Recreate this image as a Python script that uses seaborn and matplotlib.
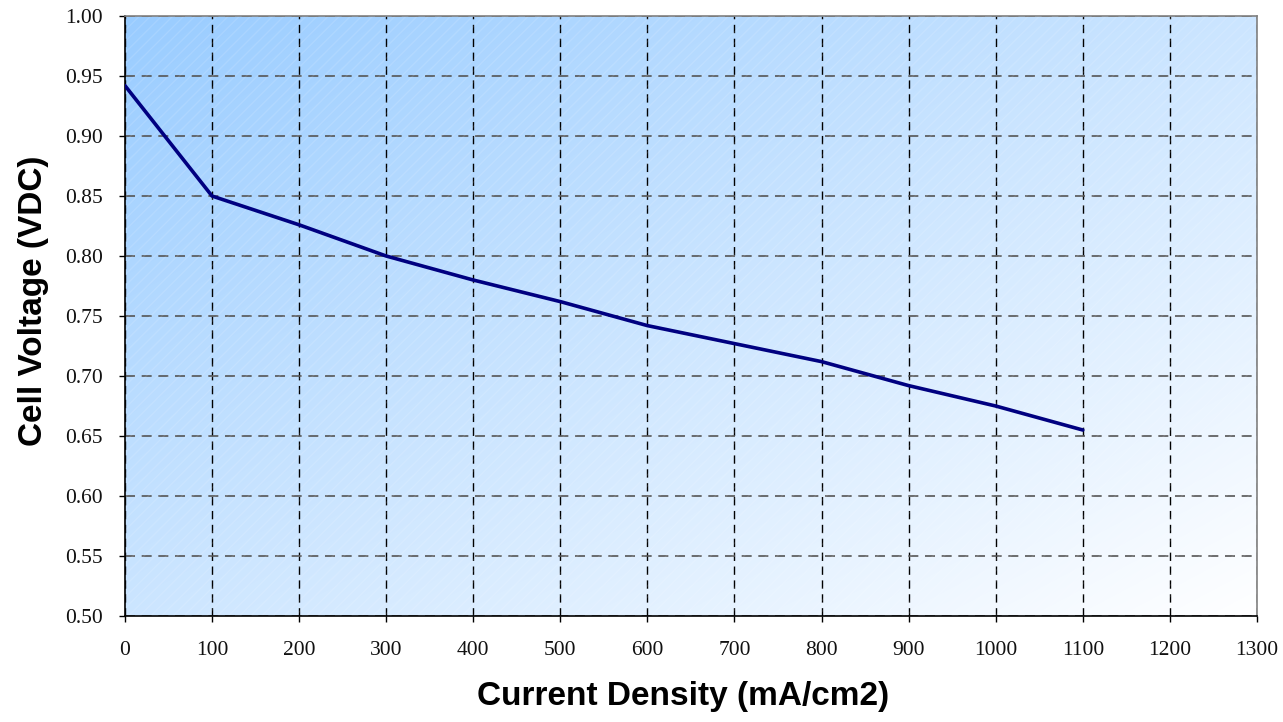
import numpy as np
import pandas as pd
import matplotlib
matplotlib.use("Agg")
import matplotlib.pyplot as plt
from matplotlib.patches import Rectangle
import seaborn as sns

# values
current_density = [0, 100, 200, 300, 400, 500, 600, 700, 800, 900, 1000, 1100]
cell_voltage = [0.942, 0.850, 0.826, 0.800, 0.780, 0.762, 0.742, 0.727,
                0.712, 0.692, 0.675, 0.655]
x_ticks = list(range(0, 1301, 100))
y_ticks = [0.50, 0.55, 0.60, 0.65, 0.70, 0.75, 0.80, 0.85, 0.90, 0.95, 1.00]

df = pd.DataFrame({"Current Density": current_density,
                   "Cell Voltage": cell_voltage})

sns.set_style("white")
plt.rcParams["text.color"] = "black"

fig = plt.figure(figsize=(12.83, 7.22), dpi=100)
ax = fig.add_axes([0.0974, 0.1468, 0.8823, 0.831])

# diagonal blue-to-white gradient for the plot area
n = 300
u, v = np.meshgrid(np.linspace(0, 1, n), np.linspace(1, 0, n))
t = (u + (1 - v)) / 2.0
top_left = np.array([153, 204, 255]) / 255.0
bottom_right = np.array([255, 255, 255]) / 255.0
img = top_left[None, None, :] * (1 - t[..., None]) + bottom_right[None, None, :] * t[..., None]
ax.imshow(img, extent=[0, 1, 0, 1], transform=ax.transAxes, aspect="auto",
          zorder=0, interpolation="bilinear")
# faint white diagonal texture
ax.add_patch(Rectangle((0, 0), 1, 1, transform=ax.transAxes, fill=False,
                       hatch="///", edgecolor=(1, 1, 1, 0.12), linewidth=0,
                       zorder=1))

sns.lineplot(data=df, x="Current Density", y="Cell Voltage", ax=ax,
             color="#000080", linewidth=2.6, zorder=5)

ax.set_xlim(0, 1300)
ax.set_ylim(0.5, 1.0)
ax.set_xticks(x_ticks)
ax.set_yticks(y_ticks)
ax.set_xticklabels([str(x) for x in x_ticks])
ax.set_yticklabels(["%.2f" % y for y in y_ticks])

for lab in ax.get_xticklabels() + ax.get_yticklabels():
    lab.set_fontfamily("Liberation Serif")
    lab.set_fontsize(15.5)
    lab.set_color("#111111")

ax.tick_params(axis="both", direction="out", length=4, width=1, color="black",
               bottom=True, left=True)
ax.tick_params(axis="x", pad=14)
ax.tick_params(axis="y", pad=12)

ax.grid(True, color="black", linestyle=(0, (6, 4)), linewidth=1.0)
for gl in ax.get_ygridlines():
    gl.set_color("#555555")
    gl.set_linewidth(1.2)
for gl in ax.get_xgridlines() + ax.get_ygridlines():
    gl.set_zorder(2)

for side in ["left", "bottom"]:
    ax.spines[side].set_color("black")
    ax.spines[side].set_linewidth(1.2)
for side in ["top", "right"]:
    ax.spines[side].set_color("#808080")
    ax.spines[side].set_linewidth(1.2)

ax.set_xlabel("Current Density (mA/cm2)", fontfamily="Liberation Sans",
              fontweight="bold", fontsize=24, color="black")
ax.set_ylabel("Cell Voltage (VDC)", fontfamily="Liberation Sans",
              fontweight="bold", fontsize=24, color="black")
ax.xaxis.set_label_coords(0.493, -0.108)
ax.yaxis.set_label_coords(-0.067, 0.525)

fig.savefig("out.png", dpi=100)
